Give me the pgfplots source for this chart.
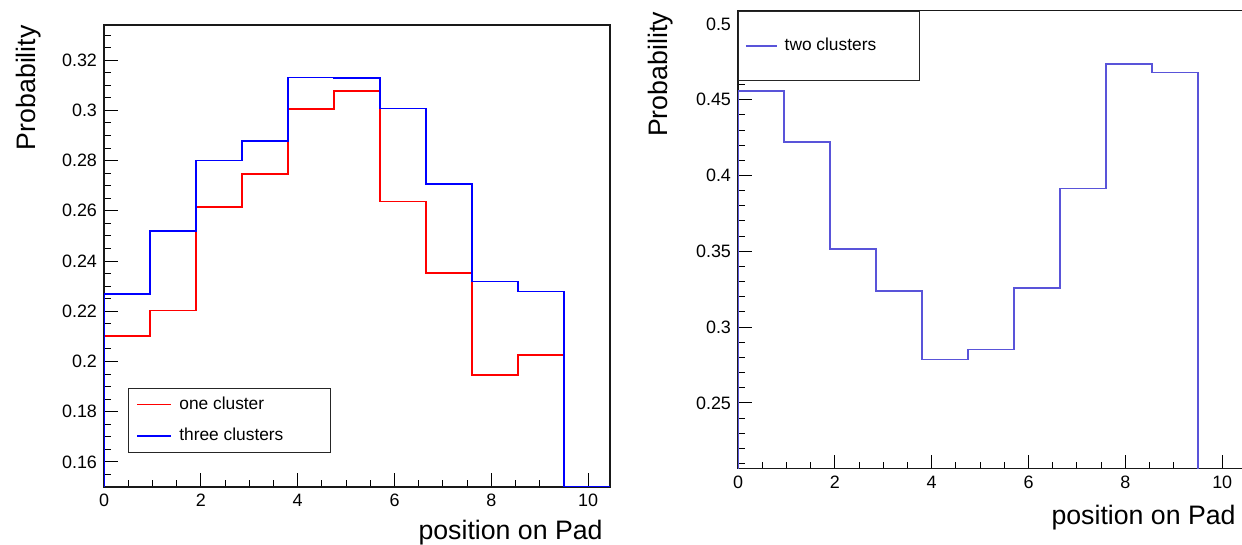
\documentclass[border=0pt]{standalone}
\usepackage{fontspec}
\setmainfont{Liberation Sans}
\usepackage{pgfplots}
\pgfplotsset{compat=1.18}
\definecolor{rootred}{RGB}{255,0,0}
\definecolor{rootblue}{RGB}{0,0,255}
\definecolor{rootblue9}{RGB}{89,84,217}

\pgfplotsset{
  rootframe/.style={
    scale only axis,
    axis line style={line width=0.55bp, black!90},
    tick align=inside,
    xtick pos=left, ytick pos=left,
    major tick length=7bp, minor tick length=3.5bp,
    tick style={black, line width=0.5bp},
    ticklabel style={font=\fontsize{9}{10}\selectfont},
    /pgf/number format/assume math mode=true,
    scaled ticks=false,
    xmin=0, xmax=10.45,
    xtick={0,2,4,6,8,10}, minor x tick num=3,
    legend cell align=left,
    legend style={fill=white, draw=black!85, line width=0.5bp,
      font=\fontsize{8.7}{10}\selectfont,
      nodes={inner sep=0pt, text height=6.4bp, text depth=1.6bp}},
  },
  histo/.style={line width=0.85bp, const plot mark left, draw=#1},
}

\begin{document}
\begin{tikzpicture}

% left: one and three clusters
\begin{axis}[rootframe,
    at={(52bp,29bp)}, anchor=south west,
    width=253bp, height=231bp,
    ymin=0.15, ymax=0.334,
    ytick={0.14,0.16,0.18,0.2,0.22,0.24,0.26,0.28,0.3,0.32,0.34},
    minor y tick num=3,
    legend image code/.code={\draw[#1, line width=0.75bp] (0bp,0bp) -- (17bp,0bp);},
    legend style={at={(0.047,0.0742)}, anchor=south west,
      inner xsep=4bp, inner ysep=4.07bp, row sep=7.85bp, column sep=3.8bp},
]
\addplot[histo=rootred] coordinates {
  (0,0.15) (0,0.2102) (0.95,0.2203) (1.9,0.2616) (2.85,0.2747) (3.8,0.3005)
  (4.75,0.3077) (5.7,0.2637) (6.65,0.2351) (7.6,0.1946) (8.55,0.2025)
  (9.5,0.15) (10.45,0.15)};
\addlegendentry{\makebox[71.6bp][l]{one cluster}}
\addplot[histo=rootblue] coordinates {
  (0,0.15) (0,0.2268) (0.95,0.2519) (1.9,0.2800) (2.85,0.2878) (3.8,0.3131)
  (4.75,0.3129) (5.7,0.3008) (6.65,0.2707) (7.6,0.2318) (8.55,0.2278)
  (9.5,0.15) (10.45,0.15)};
\addlegendentry{\makebox[71.6bp][l]{three clusters}}
\end{axis}

% right: two clusters
\begin{axis}[rootframe,
    at={(369bp,38.15bp)}, anchor=south west,
    width=253bp, height=229bp,
    ymin=0.2066, ymax=0.5087,
    ytick={0.2,0.25,0.3,0.35,0.4,0.45,0.5,0.55},
    minor y tick num=4,
    legend image code/.code={\draw[#1, line width=0.75bp] (0bp,0bp) -- (15.5bp,0bp);},
    legend style={at={(0,1)}, anchor=north west,
      inner xsep=3.35bp, inner ysep=13.35bp, column sep=3.5bp},
]
\addplot[histo=rootblue9] coordinates {
  (0,0) (0,0.4557) (0.95,0.4221) (1.9,0.3515) (2.85,0.3239) (3.8,0.2787)
  (4.75,0.2853) (5.7,0.3259) (6.65,0.3915) (7.6,0.4734) (8.55,0.4680)
  (9.5,0) (10.45,0)};
\addlegendentry{\makebox[64bp][l]{two clusters}}
\end{axis}

% axis titles, ROOT style (y title at the top end, x title at the right end)
\node[rotate=90, anchor=east, inner sep=0pt, font=\fontsize{13.4}{15}\selectfont]
  at (14.4bp,260bp) {Probability};
\node[rotate=90, anchor=east, inner sep=0pt, font=\fontsize{13.4}{15}\selectfont]
  at (330.5bp,266.6bp) {Probability};
\node[anchor=base east, inner sep=0pt, font=\fontsize{13.4}{15}\selectfont]
  at (301.5bp,2.75bp) {position on Pad};
\node[anchor=base east, inner sep=0pt, font=\fontsize{13.4}{15}\selectfont]
  at (618bp,10.5bp) {position on Pad};

\pgfresetboundingbox
\path[use as bounding box] (0,0) rectangle (621bp,272.5bp);
\end{tikzpicture}
\end{document}
